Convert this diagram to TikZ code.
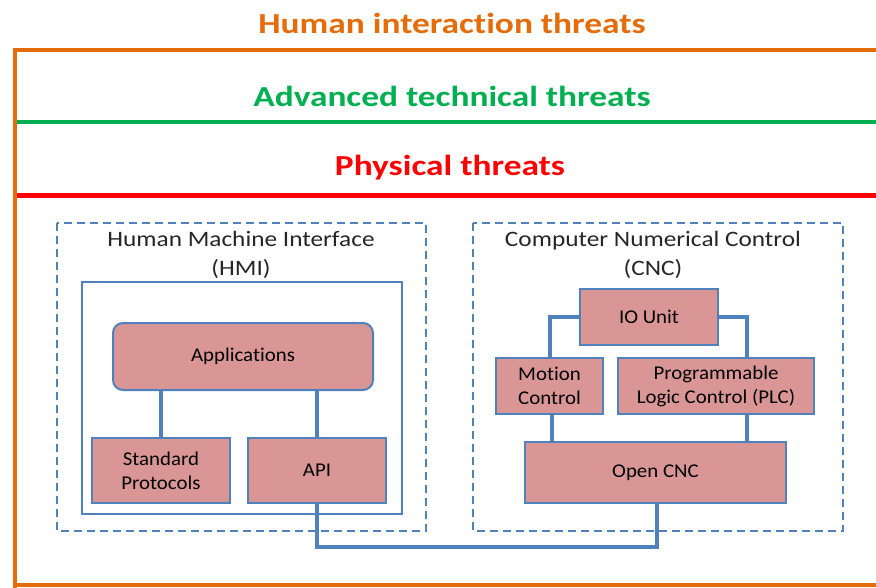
\documentclass[tikz,border=0pt]{standalone}
\usepackage{fontspec}
\setmainfont[Ligatures=NoCommon]{Carlito}
\newfontfamily\layerfont[FakeStretch=1.22, Ligatures=NoCommon]{Carlito}
\newfontfamily\groupfont[FakeStretch=1.15, Ligatures=NoCommon]{Carlito}
\newfontfamily\partfont[FakeStretch=1.07, Ligatures=NoCommon]{Carlito}
\usetikzlibrary{calc}
\definecolor{orangeline}{HTML}{E46C0A}
\definecolor{greenline}{HTML}{00B050}
\definecolor{redline}{HTML}{FF0000}
\definecolor{boxfill}{HTML}{D99694}
\definecolor{boxedge}{HTML}{4F81BD}
\tikzset{
	layertitle/.style={font=\layerfont\fontsize{29}{30}\selectfont\bfseries, anchor=center},
	grouptitle/.style={font=\groupfont\fontsize{22}{29}\selectfont, align=center, text=black!85},
	component/.style={draw=boxedge, line width=2pt, fill=boxfill, align=center,
		font=\partfont\fontsize{19.5}{24}\selectfont, inner sep=0pt},
	group/.style={draw=boxedge, line width=1.8pt, dash pattern=on 8pt off 5pt},
	link/.style={draw=boxedge, line width=4pt}
}

\begin{document}
\begin{tikzpicture}[x=1pt, y=-1pt]
	\useasboundingbox (0,0) rectangle (876,588);

% LAYERS

	\draw[orangeline, line width=4pt] (15,588) -- (15,50) -- (878,50);
	\draw[orangeline, line width=4pt] (15,585) -- (878,585);
	\draw[greenline, line width=4.5pt] (17,122) -- (878,122);
	\draw[redline, line width=5pt] (17,196) -- (878,196);

	\node[layertitle, text=orangeline] (human) at (452,23) {Human interaction threats};
	\node[layertitle, text=greenline] (advanced) at (452,96) {Advanced technical threats};
	\node[layertitle, text=redline] (physical) at (450,168) {Physical threats};

% HMI

	\draw[group] (57,223) rectangle (426,531);
	\draw[boxedge, line width=1.8pt] (82,282) rectangle (402,514);
	\node[grouptitle] (hmititle) at (241,255) {Human Machine Interface\\(HMI)};

	\node[component, rounded corners=10pt, minimum width=260pt, minimum height=67pt]
		(app) at (243,356.5) {Applications};
	\node[component, minimum width=138pt, minimum height=65pt]
		(sp) at (161,470.5) {Standard\\Protocols};
	\node[component, minimum width=138pt, minimum height=65pt]
		(api) at (317,470.5) {API};

% CNC

	\draw[group] (473,223) rectangle (843,531);
	\node[grouptitle] (cnctitle) at (653,255) {Computer Numerical Control\\(CNC)};

	\node[component, minimum width=138pt, minimum height=56pt]
		(io) at (649,317) {IO Unit};
	\node[component, minimum width=107pt, minimum height=56pt]
		(motion) at (549.5,386) {Motion\\Control};
	\node[component, minimum width=196pt, minimum height=56pt]
		(plc) at (716,386) {Programmable\\Logic Control (PLC)};
	\node[component, minimum width=261pt, minimum height=61pt]
		(ocnc) at (655.5,472.5) {Open CNC};

% LINKS

	\coordinate (bus) at (0,547);
	\draw[link] (app.south -| sp.north) -- (sp.north);
	\draw[link] (app.south -| api.north) -- (api.north);
	\draw[link] (io.west) -| (motion.north);
	\draw[link] (io.east) -| ([xshift=31pt]plc.north);
	\draw[link] ([xshift=2.5pt]motion.south) -- ([xshift=2.5pt]motion.south |- ocnc.north);
	\draw[link] ([xshift=31pt]plc.south) -- ([xshift=31pt]plc.south |- ocnc.north);
	\draw[link] (api.south) -- (api.south |- bus) -| ([xshift=1.5pt]ocnc.south);

\end{tikzpicture}
\end{document}
